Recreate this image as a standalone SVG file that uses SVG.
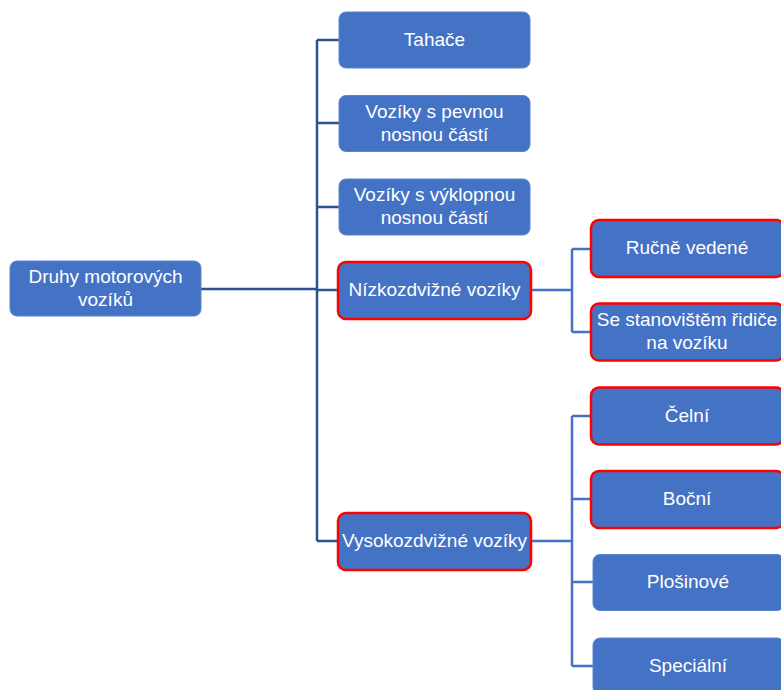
<svg xmlns="http://www.w3.org/2000/svg" width="781" height="690" viewBox="0 0 781 690">
<style>
.n{fill:#4472C4;stroke:#5B84CF;stroke-width:1}
.r{fill:#4472C4;stroke:#FF0000;stroke-width:2.5}
.t{font-family:"Liberation Sans",Arial,sans-serif;font-size:19px;fill:#FFFFFF;text-anchor:middle}
.c1{fill:none;stroke:#2F528F;stroke-width:2.5}
.c2{fill:none;stroke:#4472C4;stroke-width:2.5}
</style>
<rect width="781" height="690" fill="#FFFFFF"/>
<g id="connectors">
<path class="c1" d="M201 289H317M317 40V541M317 40H339M317 123H339M317 207H339M317 290H339M317 541H339"/>
<path class="c2" d="M532 290H572M572 249V332M572 249H590M572 332H590"/>
<path class="c2" d="M532 541H572M572 416V666M572 416H591M572 499H591M572 582H593M572 666H593"/>
</g>
<g id="root"><rect class="n" x="10" y="261" width="191" height="55" rx="7"/><text class="t" x="105.5" y="283">Druhy motorových</text><text class="t" x="105.5" y="306">vozíků</text></g>
<g id="tahace"><rect class="n" x="339" y="12" width="191" height="56" rx="7"/><text class="t" x="434.5" y="46">Tahače</text></g>
<g id="pevnou"><rect class="n" x="339" y="95.5" width="191" height="56" rx="7"/><text class="t" x="434.5" y="118">Vozíky s pevnou</text><text class="t" x="434.5" y="141">nosnou částí</text></g>
<g id="vyklopnou"><rect class="n" x="339" y="179" width="191" height="56" rx="7"/><text class="t" x="434.5" y="201">Vozíky s výklopnou</text><text class="t" x="434.5" y="224">nosnou částí</text></g>
<g id="nizko"><rect class="r" x="338" y="262" width="193" height="57" rx="8"/><text class="t" x="434.5" y="296">Nízkozdvižné vozíky</text></g>
<g id="vysoko"><rect class="r" x="338" y="513" width="193" height="57" rx="8"/><text class="t" x="434.5" y="547">Vysokozdvižné vozíky</text></g>
<g id="rucne"><rect class="r" x="591" y="220" width="193" height="57" rx="8"/><text class="t" x="687" y="254">Ručně vedené</text></g>
<g id="stanoviste"><rect class="r" x="591" y="303.5" width="193" height="57" rx="8"/><text class="t" x="687" y="326">Se stanovištěm řidiče</text><text class="t" x="687" y="349">na vozíku</text></g>
<g id="celni"><rect class="r" x="591" y="387.5" width="193" height="57" rx="8"/><text class="t" x="687" y="422">Čelní</text></g>
<g id="bocni"><rect class="r" x="591" y="471" width="193" height="57" rx="8"/><text class="t" x="687" y="505">Boční</text></g>
<g id="plosinove"><rect class="n" x="593" y="554.5" width="191" height="56" rx="7"/><text class="t" x="688" y="588">Plošinové</text></g>
<g id="specialni"><rect class="n" x="593" y="638" width="191" height="56" rx="7"/><text class="t" x="688" y="672">Speciální</text></g>
</svg>
